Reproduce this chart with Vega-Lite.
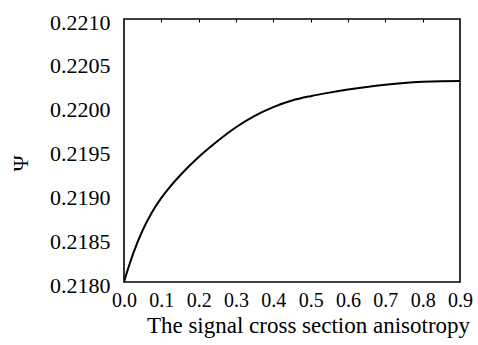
{
  "$schema": "https://vega.github.io/schema/vega-lite/v6.json",
  "width": 336,
  "height": 263,
  "autosize": {"type": "none"},
  "padding": {"left": 124, "top": 19, "right": 18, "bottom": 63},
  "background": "white",
  "config": {
    "view": {"stroke": "black", "strokeWidth": 1.6},
    "font": "Liberation Serif",
    "axis": {"labelFont": "Liberation Serif", "titleFont": "Liberation Serif", "labelColor": "black", "titleColor": "black", "grid": false, "domain": false}
  },
  "data": {"values": [
    {"a": 0.0, "psi": 0.21800},
    {"a": 0.01, "psi": 0.21814},
    {"a": 0.025, "psi": 0.21833},
    {"a": 0.05, "psi": 0.21859},
    {"a": 0.075, "psi": 0.218795},
    {"a": 0.1, "psi": 0.21896},
    {"a": 0.125, "psi": 0.219095},
    {"a": 0.15, "psi": 0.219215},
    {"a": 0.2, "psi": 0.219425},
    {"a": 0.25, "psi": 0.219605},
    {"a": 0.3, "psi": 0.219765},
    {"a": 0.35, "psi": 0.219895},
    {"a": 0.4, "psi": 0.219995},
    {"a": 0.45, "psi": 0.220070},
    {"a": 0.5, "psi": 0.220120},
    {"a": 0.55, "psi": 0.220160},
    {"a": 0.6, "psi": 0.220195},
    {"a": 0.65, "psi": 0.220225},
    {"a": 0.7, "psi": 0.220250},
    {"a": 0.75, "psi": 0.220270},
    {"a": 0.8, "psi": 0.220283},
    {"a": 0.85, "psi": 0.220290},
    {"a": 0.9, "psi": 0.220292}
  ]},
  "layer": [
    {
      "mark": {"type": "line", "color": "black", "strokeWidth": 2, "interpolate": "monotone", "clip": true},
      "encoding": {
        "x": {"field": "a", "type": "quantitative", "scale": {"domain": [0, 0.9], "nice": false},
          "axis": {"title": "The signal cross section anisotropy", "values": [0,0.1,0.2,0.3,0.4,0.5,0.6,0.7,0.8,0.9], "format": ".1f", "ticks": false, "labelPadding": 8, "labelFontSize": 20, "labelFlush": false, "titleFontSize": 23, "titleFontWeight": "normal", "titleX": 184, "titleY": 50, "titleAlign": "center", "titleBaseline": "alphabetic"}},
        "y": {"field": "psi", "type": "quantitative", "scale": {"domain": [0.2180, 0.2210], "nice": false, "zero": false},
          "axis": {"title": "Ψ", "values": [0.2180,0.2185,0.2190,0.2195,0.2200,0.2205,0.2210], "format": ".4f", "ticks": false, "labelPadding": 14, "labelFontSize": 22, "labelOffset": 3, "titleFontSize": 22, "titleFontWeight": "normal", "titleX": -104, "titleY": 144, "titleAngle": -90, "titleAlign": "center", "titleBaseline": "middle"}}
      }
    },
    {
      "mark": {"type": "line", "opacity": 0},
      "encoding": {
        "x": {"field": "a", "type": "quantitative", "scale": {"domain": [0, 0.9], "nice": false},
          "axis": {"orient": "top", "title": null, "labels": false, "values": [0.1,0.2,0.3,0.4,0.5,0.6,0.7,0.8], "ticks": true, "tickSize": -3, "tickColor": "black", "tickWidth": 1}},
        "y": {"field": "psi", "type": "quantitative"}
      }
    }
  ],
  "resolve": {"axis": {"x": "independent"}}
}
